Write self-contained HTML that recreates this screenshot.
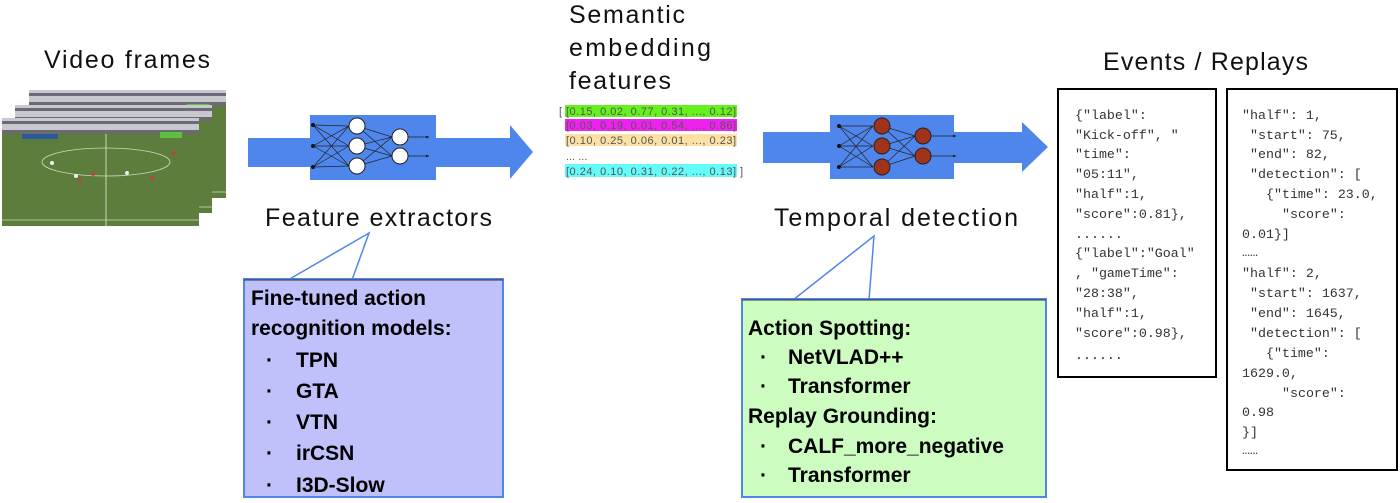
<!DOCTYPE html>
<html><head><meta charset="utf-8"><style>
html,body{margin:0;padding:0;background:#fff;}
svg{display:block;}
.t{font-family:"Liberation Sans",sans-serif;fill:#111;}
.b{font-family:"Liberation Sans",sans-serif;font-weight:bold;font-size:21px;fill:#000;}
.m{font-family:"Liberation Mono","Noto Serif CJK SC",monospace;font-size:13.3px;fill:#333;white-space:pre;}
.v{font-family:"Liberation Sans",sans-serif;font-size:11px;fill:#555;}
</style></head><body>
<svg width="1400" height="503" viewBox="0 0 1400 503" xmlns="http://www.w3.org/2000/svg" xml:space="preserve">
<defs>
<marker id="ah" markerWidth="4" markerHeight="4" refX="4" refY="2" orient="auto"><path d="M0,0 L4,2 L0,4z" fill="#111"/></marker>
<g id="frame">
<rect x="0" y="0" width="197" height="108" fill="#5d7d3c"/>
<rect x="0" y="0" width="197" height="12" fill="#c8c8d0"/>
<rect x="0" y="3" width="197" height="3" fill="#6a6a78"/>
<rect x="0" y="12" width="197" height="4" fill="#6a6a70"/>
<rect x="20" y="16" width="36" height="5" fill="#2a5a9a"/>
<rect x="158" y="14" width="22" height="6" fill="#5cc040"/>
<line x1="104" y1="16" x2="104" y2="108" stroke="#cfd8c0" stroke-width="1"/>
<ellipse cx="104" cy="44" rx="64" ry="14" fill="none" stroke="#cfd8c0" stroke-width="0.8"/>
<line x1="0" y1="102" x2="197" y2="102" stroke="#cfd8c0" stroke-width="0.8"/>
<circle cx="50" cy="45" r="2" fill="#eee"/><circle cx="74" cy="58" r="2" fill="#eee"/>
<circle cx="78" cy="63" r="2" fill="#b44"/><circle cx="91" cy="56" r="2" fill="#b44"/>
<circle cx="125" cy="55" r="2" fill="#eee"/><circle cx="150" cy="60" r="2" fill="#b44"/>
<circle cx="172" cy="35" r="2" fill="#b44"/>
</g>
</defs>

<text class="t" x="44" y="68" font-size="25" textLength="166">Video frames</text>
<use href="#frame" x="29" y="90"/>
<use href="#frame" x="15" y="105"/>
<use href="#frame" x="2" y="118"/>

<!-- arrow 1 -->
<polygon points="248,138 510,138 510,125 533,152 510,179 510,167 248,167" fill="#4f86ec"/>
<rect x="310" y="115" width="126" height="65" fill="#4f86ec"/>
<g stroke="#222" stroke-width="0.7">
<line x1="313" y1="125" x2="349" y2="126"/><line x1="313" y1="125" x2="349" y2="146"/><line x1="313" y1="125" x2="349" y2="166"/>
<line x1="313" y1="146" x2="349" y2="126"/><line x1="313" y1="146" x2="349" y2="146"/><line x1="313" y1="146" x2="349" y2="166"/>
<line x1="313" y1="167" x2="349" y2="126"/><line x1="313" y1="167" x2="349" y2="146"/><line x1="313" y1="167" x2="349" y2="166"/>
<line x1="357" y1="126" x2="392" y2="137"/><line x1="357" y1="126" x2="392" y2="156"/>
<line x1="357" y1="146" x2="392" y2="137"/><line x1="357" y1="146" x2="392" y2="156"/>
<line x1="357" y1="166" x2="392" y2="137"/><line x1="357" y1="166" x2="392" y2="156"/>
<line x1="408" y1="137" x2="429" y2="137" marker-end="url(#ah)"/><line x1="408" y1="156" x2="429" y2="156" marker-end="url(#ah)"/>
</g>
<g fill="#111"><circle cx="313" cy="125" r="2"/><circle cx="313" cy="146" r="2"/><circle cx="313" cy="167" r="2"/></g>
<g fill="#fff" stroke="#222" stroke-width="1">
<circle cx="357" cy="126" r="8"/><circle cx="357" cy="146" r="8"/><circle cx="357" cy="166" r="8"/>
<circle cx="400" cy="137" r="8"/><circle cx="400" cy="156" r="8"/></g>

<text class="t" x="265" y="226" font-size="25" textLength="227">Feature extractors</text>

<!-- callout 1 -->
<polygon points="288,280 369,233 352,280" fill="#fff" stroke="#4f86ec" stroke-width="1.5"/>
<rect x="244" y="279" width="259" height="218" fill="#c0c0fb" stroke="#4f86ec" stroke-width="2"/>
<line x1="244" y1="280" x2="503" y2="280" stroke="#333" stroke-width="1"/>
<text class="b" x="251" y="305">Fine-tuned action</text>
<text class="b" x="251" y="335">recognition models:</text>
<g class="b"><text x="266" y="367">·</text><text x="296" y="367">TPN</text>
<text x="266" y="398">·</text><text x="296" y="398">GTA</text>
<text x="266" y="429">·</text><text x="296" y="429">VTN</text>
<text x="266" y="460">·</text><text x="296" y="460">irCSN</text>
<text x="266" y="492">·</text><text x="296" y="492">I3D-Slow</text></g>

<!-- semantic -->
<text class="t" x="569" y="23" font-size="25" textLength="116">Semantic</text>
<text class="t" x="569" y="56" font-size="25" textLength="142">embedding</text>
<text class="t" x="569" y="89" font-size="25" textLength="102">features</text>
<rect x="565" y="105" width="172" height="12" fill="#66f01e"/>
<rect x="565" y="119" width="172" height="12" fill="#ee22ee"/>
<rect x="565" y="134" width="172" height="12" fill="#fbe1a6"/>
<rect x="565" y="164" width="172" height="13" fill="#66fbfb"/>
<text class="v" x="559" y="115">[</text>
<text class="v" x="566" y="115" textLength="170">[0.15, 0.02, 0.77, 0.31, ..., 0.12]</text>
<text class="v" x="566" y="129" textLength="170">[0.03, 0.19, 0.01, 0.54, ..., 0.86]</text>
<text class="v" x="566" y="144" textLength="170">[0.10, 0.25, 0.06, 0.01, ..., 0.23]</text>
<text class="v" x="566" y="160">... ...</text>
<text class="v" x="566" y="175" textLength="170">[0.24, 0.10, 0.31, 0.22, ..., 0.13]</text>
<text class="v" x="740" y="175">]</text>

<!-- arrow 2 -->
<polygon points="763,132 1022,132 1022,122 1048,147 1022,172 1022,163 763,163" fill="#4f86ec"/>
<rect x="830" y="115" width="124" height="64" fill="#4f86ec"/>
<g stroke="#222" stroke-width="0.7">
<line x1="839" y1="126" x2="873" y2="126"/><line x1="839" y1="126" x2="873" y2="146"/><line x1="839" y1="126" x2="873" y2="167"/>
<line x1="839" y1="146" x2="873" y2="126"/><line x1="839" y1="146" x2="873" y2="146"/><line x1="839" y1="146" x2="873" y2="167"/>
<line x1="839" y1="167" x2="873" y2="126"/><line x1="839" y1="167" x2="873" y2="146"/><line x1="839" y1="167" x2="873" y2="167"/>
<line x1="882" y1="126" x2="915" y2="136"/><line x1="882" y1="126" x2="915" y2="156"/>
<line x1="882" y1="146" x2="915" y2="136"/><line x1="882" y1="146" x2="915" y2="156"/>
<line x1="882" y1="167" x2="915" y2="136"/><line x1="882" y1="167" x2="915" y2="156"/>
<line x1="930" y1="136" x2="956" y2="136" marker-end="url(#ah)"/><line x1="930" y1="156" x2="956" y2="156" marker-end="url(#ah)"/>
</g>
<g fill="#111"><circle cx="839" cy="126" r="2"/><circle cx="839" cy="146" r="2"/><circle cx="839" cy="167" r="2"/></g>
<g fill="#a0341a" stroke="#222" stroke-width="1">
<circle cx="882" cy="126" r="8"/><circle cx="882" cy="146" r="8"/><circle cx="882" cy="167" r="8"/>
<circle cx="923" cy="136" r="8"/><circle cx="923" cy="156" r="8"/></g>

<text class="t" x="774" y="226" font-size="25" textLength="244">Temporal detection</text>

<!-- callout 2 -->
<polygon points="793,300 874,236 869,300" fill="#fff" stroke="#4f86ec" stroke-width="1.5"/>
<rect x="742" y="299" width="304" height="198" fill="#ccfcc0" stroke="#4f86ec" stroke-width="2"/>
<line x1="742" y1="300" x2="1046" y2="300" stroke="#333" stroke-width="1"/>
<text class="b" x="748" y="335">Action Spotting:</text>
<g class="b"><text x="760" y="364">·</text><text x="788" y="364">NetVLAD++</text>
<text x="760" y="393">·</text><text x="788" y="393">Transformer</text></g>
<text class="b" x="748" y="423">Replay Grounding:</text>
<g class="b"><text x="760" y="453">·</text><text x="788" y="453">CALF_more_negative</text>
<text x="760" y="482">·</text><text x="788" y="482">Transformer</text></g>

<!-- events -->
<text class="t" x="1103" y="70" font-size="25" textLength="205">Events / Replays</text>
<rect x="1058" y="89" width="158" height="288" fill="#fff" stroke="#000" stroke-width="2"/>
<g class="m">
<text x="1075" y="119">{"label":</text>
<text x="1075" y="139">"Kick-off", "</text>
<text x="1075" y="158">"time":</text>
<text x="1075" y="178">"05:11",</text>
<text x="1075" y="198">"half":1,</text>
<text x="1075" y="218">"score":0.81},</text>
<text x="1075" y="238">......</text>
<text x="1075" y="257">{"label":"Goal"</text>
<text x="1075" y="277">, "gameTime":</text>
<text x="1075" y="297">"28:38",</text>
<text x="1075" y="317">"half":1,</text>
<text x="1075" y="337">"score":0.98},</text>
<text x="1075" y="359">......</text>
</g>
<rect x="1227" y="89" width="170" height="381" fill="#fff" stroke="#000" stroke-width="2"/>
<g class="m">
<text x="1242" y="119">"half": 1,</text>
<text x="1250" y="139">"start": 75,</text>
<text x="1250" y="158">"end": 82,</text>
<text x="1250" y="178">"detection": [</text>
<text x="1266" y="198">{"time": 23.0,</text>
<text x="1282" y="218">"score":</text>
<text x="1242" y="238">0.01}]</text>
<text x="1242" y="256">……</text>
<text x="1242" y="277">"half": 2,</text>
<text x="1250" y="297">"start": 1637,</text>
<text x="1250" y="317">"end": 1645,</text>
<text x="1250" y="337">"detection": [</text>
<text x="1266" y="357">{"time":</text>
<text x="1242" y="377">1629.0,</text>
<text x="1282" y="397">"score":</text>
<text x="1242" y="416">0.98</text>
<text x="1242" y="436">}]</text>
<text x="1242" y="454">……</text>
</g>
</svg>
</body></html>
